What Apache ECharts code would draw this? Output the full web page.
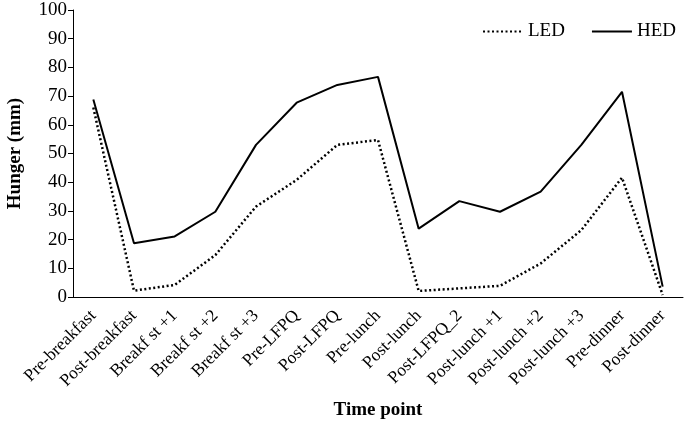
<!DOCTYPE html>
<html>
<head>
<meta charset="utf-8">
<script src="https://cdn.jsdelivr.net/npm/echarts@6/dist/echarts.min.js"></script>
<style>
  html, body { margin: 0; padding: 0; background: #fff; }
  #chart { width: 685px; height: 421px; }
</style>
</head>
<body>
<div id="chart"></div>
<script>
const timePoints = [
  'Pre-breakfast', 'Post-breakfast', 'Breakf st +1', 'Breakf st +2', 'Breakf st +3',
  'Pre-LFPQ', 'Post-LFPQ', 'Pre-lunch', 'Post-lunch', 'Post-LFPQ_2',
  'Post-lunch +1', 'Post-lunch +2', 'Post-lunch +3', 'Pre-dinner', 'Post-dinner'
];
const ledValues = [66, 2.2, 4.2, 14.6, 31.5, 40.8, 53.0, 54.7, 2.1, 3.0, 3.9, 11.7, 23.3, 41.6, 0.7];
const hedValues = [68.8, 18.7, 21.1, 29.7, 53.0, 67.7, 73.9, 76.7, 23.8, 33.4, 29.7, 36.7, 53.0, 71.5, 3.6];

const font = '"Liberation Serif", "Times New Roman", serif';
const chart = echarts.init(document.getElementById('chart'), null, { renderer: 'canvas' });

chart.setOption({
  animation: false,
  textStyle: { fontFamily: font, color: '#000' },
  legend: {
    top: 17,
    right: 4,
    itemWidth: 40,
    itemHeight: 14,
    itemGap: 26,
    itemStyle: { opacity: 0 },
    textStyle: { fontFamily: font, fontSize: 19, color: '#000' },
    data: ['LED', 'HED']
  },
  grid: { left: 73, right: 2, top: 10, bottom: 124, containLabel: false, outerBoundsMode: 'none' },
  xAxis: {
    type: 'category',
    data: timePoints,
    name: 'Time point',
    nameLocation: 'middle',
    nameGap: 104,
    nameTextStyle: { fontFamily: font, fontSize: 19, fontWeight: 'bold', color: '#000' },
    axisLine: { lineStyle: { color: '#000', width: 1 } },
    axisTick: { alignWithLabel: true, length: 5, lineStyle: { color: '#000' } },
    axisLabel: { rotate: 45, fontFamily: font, fontSize: 17.5, color: '#000', margin: 16, interval: 0 }
  },
  yAxis: {
    type: 'value',
    min: 0,
    max: 100,
    interval: 10,
    name: 'Hunger (mm)',
    nameLocation: 'middle',
    nameGap: 48,
    nameTextStyle: { fontFamily: font, fontSize: 19, fontWeight: 'bold', color: '#000' },
    axisLine: { show: true, lineStyle: { color: '#000', width: 1 } },
    axisTick: { show: true, length: 5, lineStyle: { color: '#000' } },
    axisLabel: { fontFamily: font, fontSize: 19, color: '#000', margin: 6 },
    splitLine: { show: false }
  },
  series: [
    {
      name: 'LED',
      type: 'line',
      data: ledValues,
      symbol: 'none',
      lineStyle: { color: '#000', width: 2.5, type: [2, 2.5] },
      itemStyle: { color: '#000' }
    },
    {
      name: 'HED',
      type: 'line',
      data: hedValues,
      symbol: 'none',
      lineStyle: { color: '#000', width: 2 },
      itemStyle: { color: '#000' }
    }
  ]
});
</script>
</body>
</html>
